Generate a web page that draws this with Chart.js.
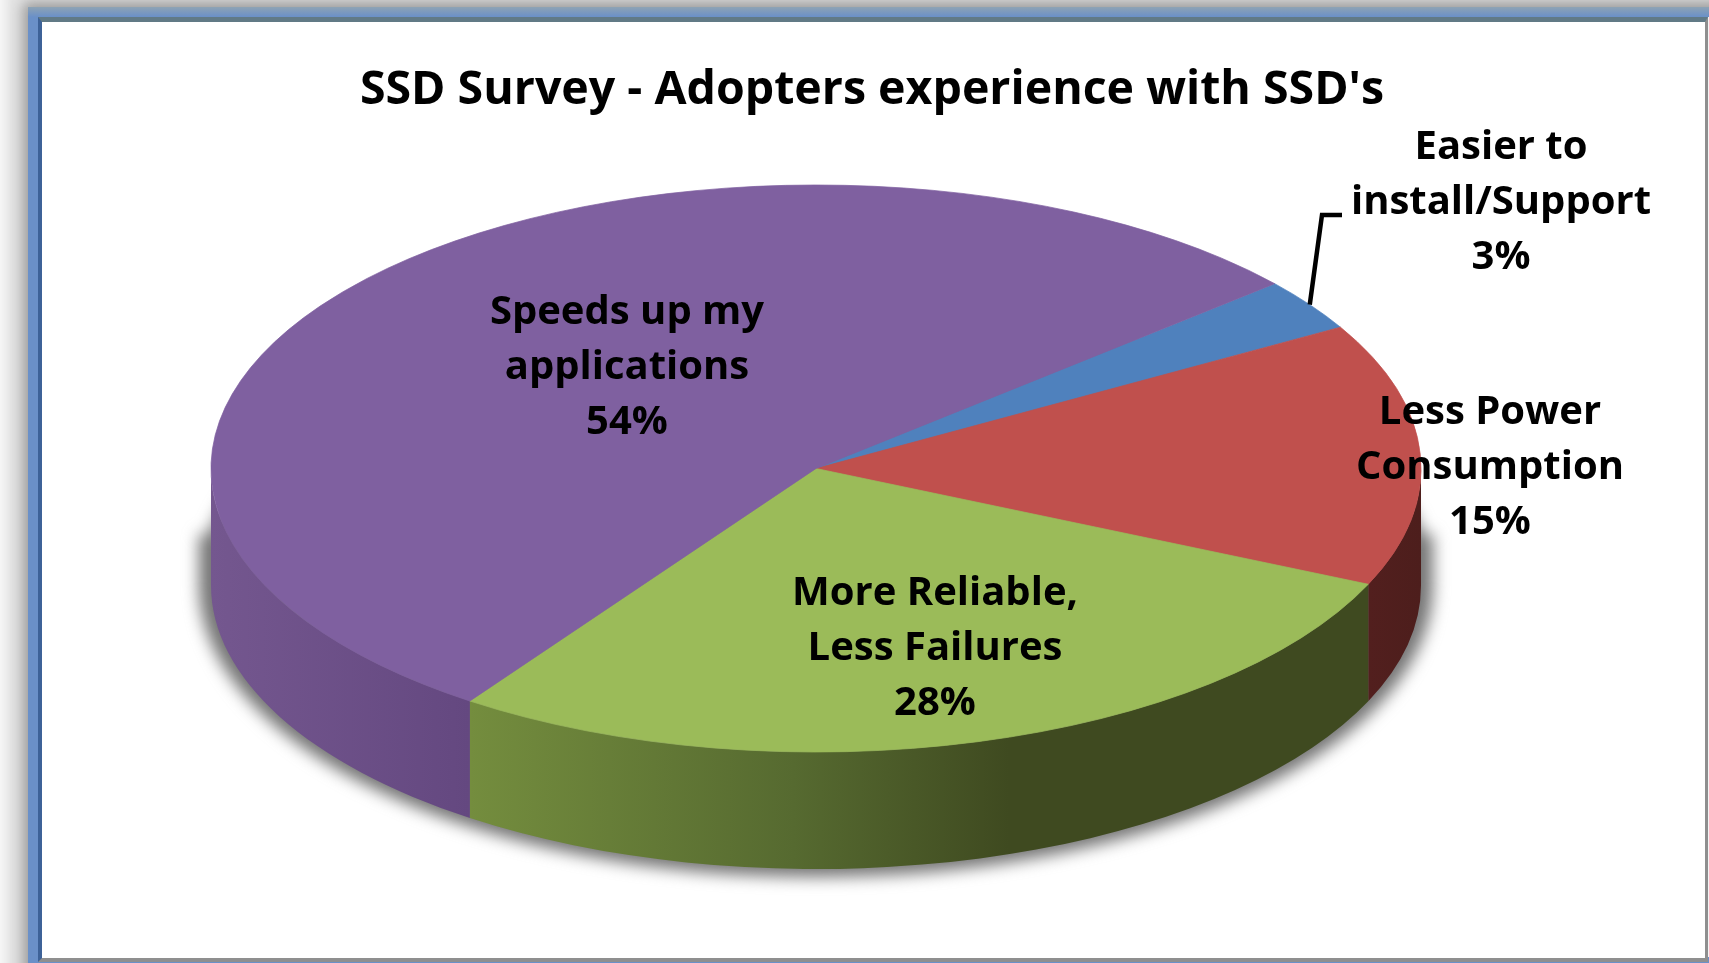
<!DOCTYPE html>
<html>
<head>
<meta charset="utf-8">
<title>SSD Survey</title>
<script src="https://cdn.jsdelivr.net/npm/chart.js@4"></script>
<style>
    html, body { margin: 0; padding: 0; background: #fff; overflow: hidden; }
    #page { position: relative; width: 1709px; height: 963px; overflow: hidden; background: linear-gradient(90deg, #f6f6f6, #e4e4e4 12px); }
    #frame { position: absolute; left: 28px; top: 7px; width: 1720px; height: 990px; background: #6a90c8;
             box-shadow: 0 0 13px 5px #9a9a9a; }
    #frame .topband { position: absolute; left: 0; top: 0; right: 0; height: 10px; background: linear-gradient(#8ea3b4, #6a90c8); }
    #sheet { position: absolute; left: 38px; top: 17px; width: 1663px; height: 936px; background: #fff;
             border-top: 5px solid #617a86; border-left: 4px solid #3d6298; border-bottom: 4px solid #8f8f8f; border-right: 3px solid #8f8f8f; }
    #edge { position: absolute; left: 1708px; top: 17px; width: 1px; height: 940px; background: #f4f4f4; }
    canvas { position: absolute; left: 0; top: 0; }
</style>
</head>
<body>
<div id="page">
    <div id="frame"><div class="topband"></div></div>
    <div id="sheet"></div>
    <div id="edge"></div>
    <canvas id="ssdChart" width="1709" height="963"></canvas>
</div>
<script>
var chartTitle = "SSD Survey - Adopters experience with SSD's";
var categories = [
    ['Easier to', 'install/Support'],
    ['Less Power', 'Consumption'],
    ['More Reliable,', 'Less Failures'],
    ['Speeds up my', 'applications']
];
var shares = [3, 15, 28, 54];

var sliceColors = ['#4f81bd', '#c0504d', '#9bbb59', '#7f60a0'];
// side wall shading per slice, left to right
var wallShades = [
    [[0, '#35567f'], [1, '#35567f']],
    [[0, '#521f1e'], [1, '#4d1e1c']],
    [[0, '#748d3e'], [0.36, '#566a30'], [0.6, '#3f4a20'], [1, '#3f4a20']],
    [[0, '#74578f'], [1, '#644880']]
];
// centre of each label block on the page
var labelCenters = [[1501, 203], [1490, 468], [935, 649], [627, 368]];

var pieCenter = { x: 816, y: 468.5 };
var pieRadius = 605;
var pieTilt = 283.5 / 605;
var pieDepth = 117;
var labelFont = 'bold 40px "Open Sans"';
var lineGap = 55;

function arcProps(arc) {
    return arc.getProps(['x', 'y', 'startAngle', 'endAngle', 'outerRadius'], true);
}

// extruded look: soft shadow plus the visible lower rim of every slice
var pieBody = {
    id: 'pieBody',
    beforeDatasetsDraw: function (chart) {
        var ctx = chart.ctx;
        var rx = pieRadius, ry = rx * pieTilt;
        var cx = pieCenter.x, cy = pieCenter.y;

        ctx.save();
        ctx.filter = 'blur(8px)';
        ctx.fillStyle = '#747474';
        ctx.beginPath();
        ctx.rect(cx - rx - 12, cy + 66, 2 * rx + 24, pieDepth - 66);
        ctx.ellipse(cx, cy + pieDepth, rx + 12, ry + 8, 0, 0, Math.PI * 2);
        ctx.fill();
        ctx.restore();

        chart.getDatasetMeta(0).data.forEach(function (arc, i) {
            var p = arcProps(arc);
            var a0 = Math.max(p.startAngle, 0);
            var a1 = Math.min(p.endAngle, Math.PI);
            if (a1 <= a0) return;

            var x0 = cx + rx * Math.cos(a1);
            var x1 = cx + rx * Math.cos(a0);
            var grad = ctx.createLinearGradient(x0, 0, x1, 0);
            wallShades[i].forEach(function (s) { grad.addColorStop(s[0], s[1]); });

            ctx.save();
            ctx.fillStyle = grad;
            ctx.beginPath();
            ctx.ellipse(cx, cy, rx, ry, 0, a0, a1);
            ctx.ellipse(cx, cy + pieDepth, rx, ry, 0, a1, a0, true);
            ctx.closePath();
            ctx.fill();
            ctx.restore();
        });
    },
    // squash the library's round pie into the tilted top face
    beforeDatasetDraw: function (chart) {
        var p = arcProps(chart.getDatasetMeta(0).data[0]);
        var ctx = chart.ctx;
        ctx.save();
        ctx.translate(pieCenter.x, pieCenter.y);
        ctx.scale(1, pieTilt);
        ctx.translate(-p.x, -p.y);
    },
    afterDatasetDraw: function (chart) {
        chart.ctx.restore();
    }
};

var sliceLabels = {
    id: 'sliceLabels',
    afterDraw: function (chart) {
        var ctx = chart.ctx;
        ctx.save();

        // leader line for the thin slice, from the middle of its outer edge
        var p = arcProps(chart.getDatasetMeta(0).data[0]);
        var mid = (p.startAngle + p.endAngle) / 2;
        ctx.strokeStyle = '#000';
        ctx.lineWidth = 4.5;
        ctx.beginPath();
        ctx.moveTo(pieCenter.x + pieRadius * Math.cos(mid), pieCenter.y + pieRadius * pieTilt * Math.sin(mid));
        ctx.lineTo(1322, 215);
        ctx.lineTo(1342, 215);
        ctx.stroke();

        ctx.fillStyle = '#000';
        ctx.font = labelFont;
        ctx.textAlign = 'center';
        ctx.textBaseline = 'middle';
        categories.forEach(function (lines, i) {
            var c = labelCenters[i];
            ctx.fillText(lines[0], c[0], c[1] - lineGap);
            ctx.fillText(lines[1], c[0], c[1]);
            ctx.fillText(shares[i] + '%', c[0], c[1] + lineGap);
        });
        ctx.restore();
    }
};

document.addEventListener("DOMContentLoaded", function () {
    var ctx = document.getElementById('ssdChart').getContext('2d');

    new Chart(ctx, {
        type: 'pie',
        data: {
            labels: categories,
            datasets: [{
                data: shares,
                backgroundColor: sliceColors,
                borderColor: sliceColors,
                borderWidth: 1,
                clip: false
            }]
        },
        options: {
            responsive: false,
            animation: false,
            events: [],
            rotation: 49.3,
            radius: pieRadius,
            layout: { padding: { left: 35, top: 63 } },
            plugins: {
                legend: { display: false },
                tooltip: { enabled: false },
                title: {
                    display: true,
                    text: chartTitle,
                    color: '#000',
                    font: { family: 'Open Sans', size: 46.5, weight: 'bold' },
                    padding: 0
                }
            }
        },
        plugins: [pieBody, sliceLabels]
    });
});
</script>
</body>
</html>
